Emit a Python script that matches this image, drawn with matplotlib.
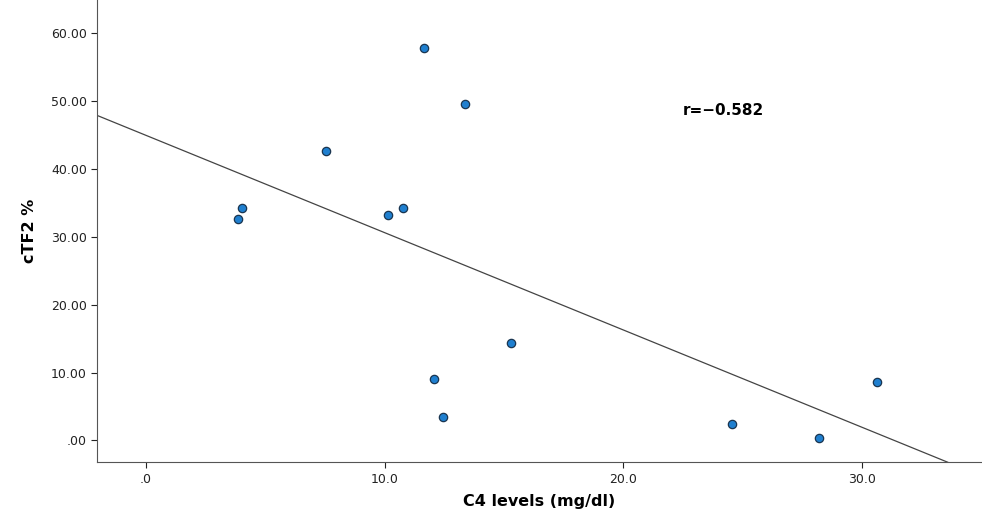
import numpy as np
import matplotlib.pyplot as plt

c4 = [3.87, 4.03, 7.52, 10.13, 10.76, 11.64, 13.36, 12.06, 12.44, 15.29, 24.58, 28.19, 30.63]
ctf2 = [32.6, 34.2, 42.6, 33.2, 34.2, 57.8, 49.6, 9.0, 3.4, 14.3, 2.5, 0.3, 8.6]
fit_intercept = 44.95
fit_slope = -1.433
r_text = "r=\u22120.582"

fig = plt.figure(figsize=(9.82, 5.17), dpi=100)
ax = fig.add_axes([0.099, 0.106, 0.9, 0.894])

ax.scatter(c4, ctf2, s=36, c="#1f7fcf", edgecolors="#1a3550", linewidths=0.9, zorder=3)
xl = np.array([-2.05, 33.6])
ax.plot(xl, fit_intercept + fit_slope * xl, color="#444444", lw=0.9)

ax.set_xlim(-2.05, 35.0)
ax.set_ylim(-3.2, 64.9)
ax.set_xticks([0, 10, 20, 30])
ax.set_xticklabels([".0", "10.0", "20.0", "30.0"])
ax.set_yticks([0, 10, 20, 30, 40, 50, 60])
ax.set_yticklabels([".00", "10.00", "20.00", "30.00", "40.00", "50.00", "60.00"])
ax.tick_params(labelsize=9, colors="#222222", length=4)
for s in ["top", "right"]:
    ax.spines[s].set_visible(False)
for s in ["left", "bottom"]:
    ax.spines[s].set_color("#555555")

ax.set_xlabel("C4 levels (mg/dl)", fontsize=11.5, fontweight="bold", labelpad=6)
ax.set_ylabel("cTF2 %", fontsize=11.5, fontweight="bold", labelpad=10)
ax.text(22.5, 48.6, r_text, fontsize=11, fontweight="bold", va="center")

fig.savefig("out.png", dpi=100)
